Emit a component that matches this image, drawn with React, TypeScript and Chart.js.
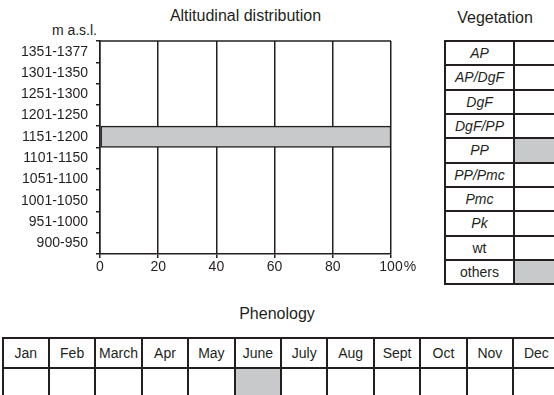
import React, { useEffect, useRef } from "react";
import { Chart, registerables } from "chart.js";

Chart.register(...registerables);

// ---------- data ----------
const ALT_LABELS = [
  "1351-1377",
  "1301-1350",
  "1251-1300",
  "1201-1250",
  "1151-1200",
  "1101-1150",
  "1051-1100",
  "1001-1050",
  "951-1000",
  "900-950",
];
const ALT_PERCENT = [0, 0, 0, 0, 100, 0, 0, 0, 0, 0];
const X_MIN = 0;
const X_MAX = 100;
const X_STEP = 20;

const VEG_TYPES = ["AP", "AP/DgF", "DgF", "DgF/PP", "PP", "PP/Pmc", "Pmc", "Pk", "wt", "others"];
const VEG_ITALIC = [true, true, true, true, true, true, true, true, false, false];
const VEG_PRESENT = [0, 0, 0, 0, 1, 0, 0, 0, 0, 1];

const MONTHS = ["Jan", "Feb", "March", "Apr", "May", "June", "July", "Aug", "Sept", "Oct", "Nov", "Dec"];
const MONTH_PRESENT = [0, 0, 0, 0, 0, 1, 0, 0, 0, 0, 0, 0];

// ---------- styles ----------
const FONT = '"Liberation Sans", Arial, Helvetica, sans-serif';
const INK = "#231f20";
const SHADE = "#c8c9ca";
const TICK_SIZE = 14;
const TITLE_SIZE = 16;

const percentPlugin = {
  id: "percentSign",
  afterDraw(chart: any) {
    const ctx = chart.ctx;
    const area = chart.chartArea;
    // top border of the plot frame
    ctx.save();
    ctx.strokeStyle = INK;
    ctx.lineWidth = 1.5;
    ctx.beginPath();
    ctx.moveTo(area.left, area.top);
    ctx.lineTo(area.right, area.top);
    ctx.stroke();
    // "%" after the last x tick label
    const xs = chart.scales.x;
    const items = xs.getLabelItems();
    const last = items[items.length - 1];
    if (last) {
      ctx.font = last.font.string;
      ctx.fillStyle = INK;
      ctx.textBaseline = "middle";
      ctx.textAlign = "left";
      const w = ctx.measureText(String(last.label)).width;
      const [tx, ty] = last.options.translation;
      ctx.fillText("%", tx + w / 2 + 1, ty + last.textOffset);
    }
    ctx.restore();
  },
};

export default function App() {
  const ref = useRef<HTMLCanvasElement | null>(null);

  useEffect(() => {
    if (!ref.current) return;
    const chart = new Chart(ref.current, {
      type: "bar",
      data: {
        labels: ALT_LABELS,
        datasets: [
          {
            data: ALT_PERCENT,
            backgroundColor: SHADE,
            borderColor: INK,
            borderWidth: 1.5,
            borderSkipped: false,
            categoryPercentage: 1,
            barPercentage: 1,
          },
        ],
      },
      options: {
        indexAxis: "y",
        responsive: false,
        animation: false,
        devicePixelRatio: 1,
        layout: { padding: { top: 41, right: 39, left: 0, bottom: 0 } },
        plugins: {
          legend: { display: false },
          tooltip: { enabled: false },
          title: { display: false },
        },
        scales: {
          x: {
            type: "linear",
            position: "bottom",
            min: X_MIN,
            max: X_MAX,
            ticks: {
              stepSize: X_STEP,
              color: INK,
              padding: 1,
              font: { family: FONT, size: TICK_SIZE },
            },
            grid: { color: INK, lineWidth: 1.5, tickLength: 4, drawTicks: true },
            border: { color: INK, width: 1.5 },
            afterFit: (s: any) => {
              s.height = 36;
            },
          },
          y: {
            type: "category",
            ticks: {
              color: INK,
              padding: 8,
              font: { family: FONT, size: TICK_SIZE },
            },
            grid: {
              drawOnChartArea: false,
              drawTicks: true,
              tickLength: 4,
              color: INK,
              lineWidth: 1.5,
              offset: true,
            },
            border: { color: INK, width: 1.5 },
            afterFit: (s: any) => {
              s.width = 100;
            },
          },
        },
      },
      plugins: [percentPlugin],
    } as any);
    return () => chart.destroy();
  }, []);

  const title: React.CSSProperties = {
    position: "absolute",
    fontSize: TITLE_SIZE,
    lineHeight: `${TITLE_SIZE}px`,
    textAlign: "center",
    whiteSpace: "nowrap",
  };

  return (
    <div
      style={{
        position: "fixed",
        left: 0,
        top: 0,
        width: 554,
        height: 395,
        overflow: "hidden",
        background: "#fff",
        fontFamily: FONT,
        color: INK,
      }}
    >
      <div style={{ ...title, left: 100, width: 291, top: 7.5 }}>Altitudinal distribution</div>
      <div
        style={{
          position: "absolute",
          right: 554 - 97,
          top: 23,
          fontSize: TICK_SIZE,
          lineHeight: `${TICK_SIZE}px`,
          whiteSpace: "nowrap",
        }}
      >
        m a.s.l.
      </div>
      <canvas
        ref={ref}
        width={430}
        height={290}
        style={{ position: "absolute", left: 0, top: 0, width: 430, height: 290 }}
      />

      <div style={{ ...title, left: 447, width: 96, top: 10 }}>Vegetation</div>
      <div
        style={{
          position: "absolute",
          left: 444,
          top: 40,
          display: "grid",
          gridTemplateColumns: "67px 60px",
          gridAutoRows: "22.33px",
          gap: 2,
          padding: 2,
          background: INK,
        }}
      >
        {VEG_TYPES.map((v, i) => (
          <React.Fragment key={v}>
            <div
              style={{
                background: "#fff",
                display: "flex",
                alignItems: "center",
                justifyContent: "center",
                fontSize: TICK_SIZE,
                fontStyle: VEG_ITALIC[i] ? "italic" : "normal",
                whiteSpace: "nowrap",
              }}
            >
              {v}
            </div>
            <div style={{ background: VEG_PRESENT[i] ? SHADE : "#fff" }} />
          </React.Fragment>
        ))}
      </div>

      <div style={{ ...title, left: 200, width: 154, top: 305.5 }}>Phenology</div>
      <div
        style={{
          position: "absolute",
          left: 1.5,
          top: 336.7,
          display: "grid",
          gridTemplateColumns: `repeat(${MONTHS.length}, 44.43px)`,
          gridTemplateRows: "28.6px 40px",
          gap: 2,
          padding: 2,
          background: INK,
        }}
      >
        {MONTHS.map((m) => (
          <div
            key={m}
            style={{
              background: "#fff",
              display: "flex",
              alignItems: "center",
              justifyContent: "center",
              fontSize: TICK_SIZE,
              whiteSpace: "nowrap",
            }}
          >
            {m}
          </div>
        ))}
        {MONTHS.map((m, i) => (
          <div key={m + "-v"} style={{ background: MONTH_PRESENT[i] ? SHADE : "#fff" }} />
        ))}
      </div>
    </div>
  );
}
